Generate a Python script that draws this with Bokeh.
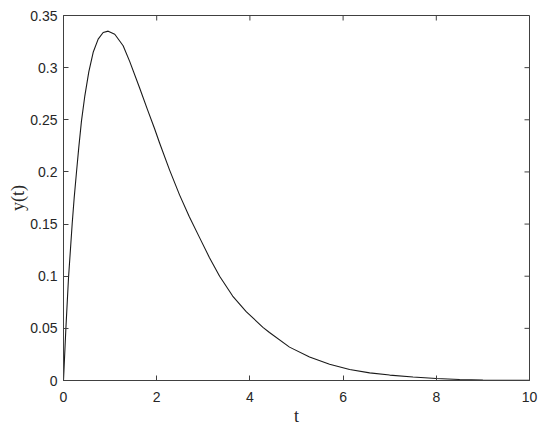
import numpy as np
from bokeh.plotting import figure
from bokeh.models import Range1d, FixedTicker
from bokeh.embed import file_html
from bokeh.resources import INLINE

# Values
t_vals = [0.0, 0.05, 0.107, 0.186, 0.229, 0.279, 0.329, 0.386, 0.458, 0.543, 0.637,
          0.744, 0.851, 0.959, 1.10, 1.28, 1.42, 1.63, 1.80, 1.953, 2.06, 2.275, 2.49,
          2.70, 2.92, 3.13, 3.35, 3.63, 3.92, 4.28, 4.42, 4.85, 5.28, 5.71, 6.14, 6.57,
          7.00, 7.50, 8.00, 8.50, 9.00, 9.50, 10.0]
y_vals = [0.0, 0.049, 0.098, 0.150, 0.175, 0.200, 0.224, 0.249, 0.273, 0.296, 0.3147,
          0.3273, 0.3337, 0.3350, 0.332, 0.321, 0.306, 0.281, 0.260, 0.2416, 0.228, 0.202, 0.178,
          0.157, 0.137, 0.118, 0.100, 0.081, 0.066, 0.051, 0.046, 0.032, 0.0226, 0.0156, 0.0105, 0.0073,
          0.0052, 0.0033, 0.0019, 0.0010, 0.0005, 0.0002, 0.0001]

x_ticks = [0, 2, 4, 6, 8, 10]
x_tick_labels = ["0", "2", "4", "6", "8", "10"]
y_ticks = [0, 0.05, 0.1, 0.15, 0.2, 0.25, 0.3, 0.35]
y_tick_labels = ["0", "0.05", "0.1", "0.15", "0.2", "0.25", "0.3", "0.35"]

AX = "#404040"
X0, X1 = 0, 10
Y0, Y1 = 0, 0.35

p = figure(width=541, height=428, output_backend="svg", toolbar_location=None,
           x_range=Range1d(X0, X1), y_range=Range1d(Y0, Y1),
           min_border_left=63, min_border_right=12, min_border_top=15, min_border_bottom=45)
p.background_fill_color = "white"
p.border_fill_color = "white"
p.outline_line_color = AX
p.outline_line_width = 1
p.grid.visible = False

p.line(t_vals, y_vals, line_color="#1a1a1a", line_width=1.1)

for ax, ticks, labels in ((p.xaxis[0], x_ticks, x_tick_labels), (p.yaxis[0], y_ticks, y_tick_labels)):
    ax.ticker = FixedTicker(ticks=ticks)
    ax.major_label_overrides = {v: s for v, s in zip(ticks, labels)}
    ax.major_tick_in = 5
    ax.major_tick_out = 0
    ax.minor_tick_line_color = None
    ax.axis_line_color = AX
    ax.major_tick_line_color = AX
    ax.major_label_text_font = "Liberation Sans"
    ax.major_label_text_font_size = "14px"
    ax.major_label_text_color = "#262626"
    ax.axis_label_text_font = "Liberation Serif"
    ax.axis_label_text_font_style = "normal"
    ax.axis_label_text_font_size = "18px"
    ax.axis_label_text_color = "#262626"

p.xaxis[0].axis_label = "t"
p.xaxis[0].major_label_standoff = 11
p.xaxis[0].axis_label_standoff = 1
p.yaxis[0].axis_label = "y(t)"
p.yaxis[0].major_label_standoff = 6
p.yaxis[0].axis_label_standoff = -1

# inward ticks on the top and right edges of the box
p.ray(x=x_ticks, y=[Y1] * len(x_ticks), length=5, length_units="screen",
      angle=-np.pi / 2, line_color=AX, line_width=1)
p.ray(x=[X1] * len(y_ticks), y=y_ticks, length=5, length_units="screen",
      angle=np.pi, line_color=AX, line_width=1)

open("out.html", "w").write(file_html(p, INLINE))
